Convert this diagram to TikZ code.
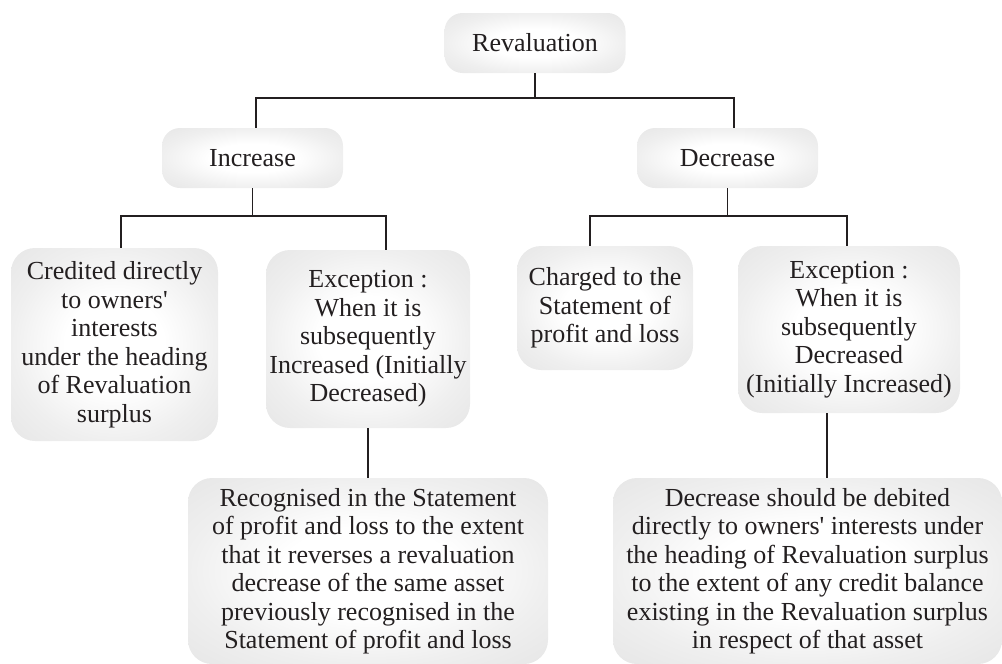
\documentclass[tikz,border=0pt]{standalone}
\usepackage{fontspec}
\setmainfont{Liberation Serif}[Ligatures=TeXOff]
\usepackage{xcolor}
\definecolor{inkdark}{HTML}{231F20}
\definecolor{boxgray}{HTML}{EFEFEF}
\definecolor{boxedge}{HTML}{E6E6E6}
\pgfdeclareradialshading{boxshade}{\pgfpoint{0bp}{0bp}}{color(0bp)=(white); color(12bp)=(white); color(25bp)=(boxgray); color(36bp)=(boxedge); color(50bp)=(boxedge)}

\begin{document}
\begin{tikzpicture}[
	x=1pt, y=-1pt,
	box/.style={rectangle, rounded corners=18pt, align=center, inner sep=0pt, text=inkdark, font=\fontsize{26}{28.5}\selectfont, shade, shading=boxshade},
	head/.style={box, minimum width=181pt, minimum height=60pt},
	leaf/.style={box, rounded corners=24pt},
	link/.style={draw=inkdark, line width=1.5pt}
	]
	\useasboundingbox (0,0) rectangle (1002,664);

	\node[head] (rev) at (535,43) {Revaluation};
	\node[head] (inc) at (252.5,158) {Increase};
	\node[head] (dec) at (727.5,158) {Decrease};

	\node[leaf, minimum width=207pt, minimum height=193pt] (cred) at (114.5,344.5) {Credited directly\\to owners'\\interests\\under the heading\\of Revaluation\\surplus};
	\node[leaf, minimum width=204pt, minimum height=178pt] (excinc) at (368,339) {Exception :\\When it is\\subsequently\\Increased (Initially\\Decreased)};
	\node[leaf, minimum width=176pt, minimum height=124pt] (chg) at (605,308) {Charged to the\\Statement of\\profit and loss};
	\node[leaf, minimum width=222pt, minimum height=167pt] (excdec) at (849,329.5) {Exception :\\When it is\\subsequently\\Decreased\\(Initially Increased)};

	\node[leaf, minimum width=360pt, minimum height=186pt] (recog) at (368,571) {Recognised in the Statement\\of profit and loss to the extent\\that it reverses a revaluation\\decrease of the same asset\\previously recognised in the\\Statement of profit and loss};
	\node[leaf, minimum width=389pt, minimum height=186pt] (debit) at (807.5,571) {Decrease should be debited\\directly to owners' interests under\\the heading of Revaluation surplus\\to the extent of any credit balance\\existing in the Revaluation surplus\\in respect of that asset};

	% top level
	\draw[link] (rev.south) -- ++(0,25) coordinate (revbar);
	\draw[link] ([xshift=3.5pt]inc.north) |- (revbar) -| ([xshift=6.5pt]dec.north);
	% increase branch
	\draw[link] (inc.south) -- ++(0,28) coordinate (incbar);
	\draw[link] ([xshift=6.5pt]cred.north) |- (incbar) -| ([xshift=18pt]excinc.north);
	% decrease branch
	\draw[link] (dec.south) -- ++(0,28) coordinate (decbar);
	\draw[link] ([xshift=-15pt]chg.north) |- (decbar) -| ([xshift=-2pt]excdec.north);
	% exceptions
	\draw[link] (excinc.south) -- (recog.north);
	\draw[link] ([xshift=-22pt]excdec.south) -- ([xshift=-22pt]excdec.south |- debit.north);
\end{tikzpicture}
\end{document}
